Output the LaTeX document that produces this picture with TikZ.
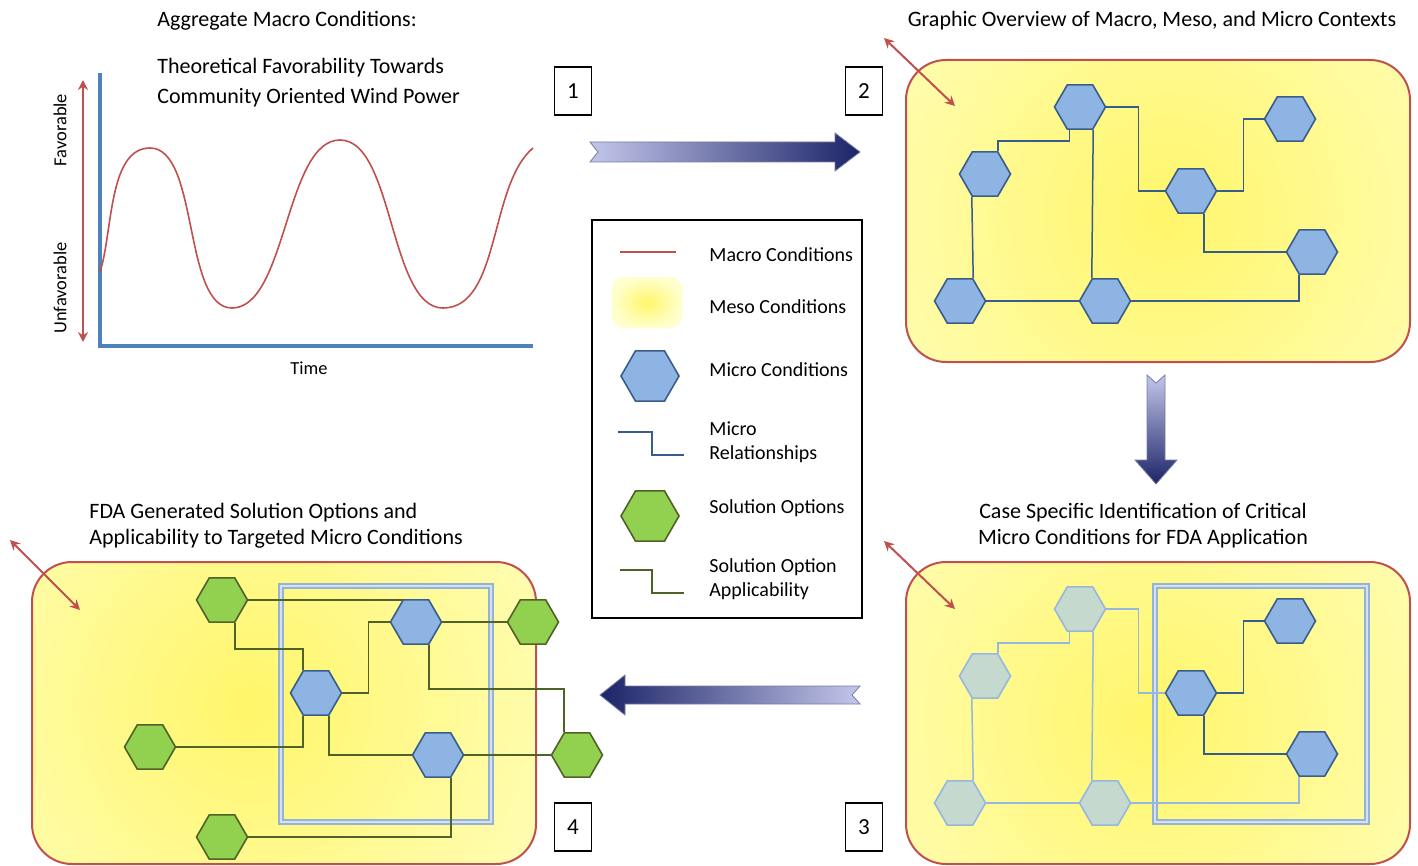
\documentclass[tikz,border=0pt]{standalone}
\usepackage{fontspec}
\setmainfont{Carlito}
\usetikzlibrary{shapes.geometric,arrows.meta}

\definecolor{macrored}{HTML}{C0504D}
\definecolor{axisblue}{HTML}{4F81BD}
\definecolor{hexblue}{HTML}{8EB4E3}
\definecolor{hexline}{HTML}{385D8A}
\definecolor{solgreen}{HTML}{92D050}
\definecolor{solline}{HTML}{4F6228}
\definecolor{fadefill}{HTML}{C6D9CE}
\definecolor{fadeline}{HTML}{95B7E0}
\definecolor{mesopale}{HTML}{FFFFCE}
\definecolor{mesocore}{HTML}{FFF66A}
\definecolor{arrlight}{HTML}{C3C6EA}
\definecolor{arrdark}{HTML}{1C2468}
\definecolor{framecol}{HTML}{95B3D7}

\tikzset{
  ttl/.style={font=\fontsize{11}{13}\selectfont,inner sep=0pt},
  leg/.style={font=\fontsize{10}{12}\selectfont,inner sep=0pt,anchor=west,align=left},
  axlbl/.style={font=\fontsize{9.2}{10}\selectfont,inner sep=0pt},
  numbox/.style={draw,line width=0.6pt,fill=white,minimum width=18.5pt,minimum height=24pt,
    inner sep=0pt,font=\fontsize{11.5}{13}\selectfont},
  micro/.style={regular polygon,regular polygon sides=6,minimum size=25.5pt,inner sep=0pt,
    fill=hexblue,draw=hexline,line width=0.8pt},
  sol/.style={micro,fill=solgreen,draw=solline},
  faded/.style={micro,fill=fadefill,draw=fadeline},
  rel/.style={draw=hexline,line width=0.75pt},
  app/.style={draw=solline,line width=0.75pt},
  fadedrel/.style={draw=fadeline,line width=0.75pt},
  macro/.style={draw=macrored,line width=0.8pt},
  redarr/.style={draw=macrored,line width=1pt,{Stealth[length=5pt,width=5pt]}-{Stealth[length=5pt,width=5pt]}},
  frame/.style={draw=framecol,line width=0.7pt,double=white!60!framecol,double distance=1.2pt}
}

\begin{document}
\begin{tikzpicture}[x=0.5pt,y=-0.5pt]
  \useasboundingbox (0,0) rectangle (1418,866);

  % panel 1
  \draw[axisblue,line width=2pt] (100,73) -- (100,346) -- (533,346);
  \draw[macro] (100,272) to[out=72,in=180,looseness=0.8] (150,148) to[out=0,in=180,looseness=0.7] (232,308)
    to[out=0,in=180,looseness=0.7] (340,140) to[out=0,in=180,looseness=0.7] (443,308)
    to[out=0,in=-140,looseness=0.8] (533,148);
  \coordinate (favtop) at (83,80);
  \coordinate (favbot) at (83,342);
  \draw[redarr] (favtop) -- (favbot);
  \node[axlbl,rotate=90] (fav) at (60,130) {Favorable};
  \node[axlbl,rotate=90] (unfav) at (60,288) {Unfavorable};
  \node[axlbl] (time) at (309,368) {Time};
  \node[ttl,anchor=west] (t1a) at (157,21) {Aggregate Macro Conditions:};
  \node[ttl,anchor=west,align=left,font=\fontsize{11}{15}\selectfont] (t1b) at (157,83)
    {Theoretical Favorability Towards\\Community Oriented Wind Power};

  % meso boxes
  \foreach \xa/\ya/\xb/\yb/\gx/\gy in {906/60/1410/362/1165/215,906/562/1410/864/1150/720,32/562/536/864/250/705}{
    \begin{scope}
      \clip[rounded corners=20pt] (\xa,\ya) rectangle (\xb,\yb);
      \fill[mesopale] (\xa,\ya) rectangle (\xb,\yb);
      \shade[inner color=mesocore,outer color=mesopale] (\gx,\gy) circle (440);
    \end{scope}
    \draw[macrored,line width=1pt,rounded corners=20pt] (\xa,\ya) rectangle (\xb,\yb);
  }

  % block arrows
  \shadedraw[left color=arrlight,right color=arrdark,draw=arrdark!60,line width=0.4pt]
    (590,142) -- (835,142) -- (835,133) -- (860,152) -- (835,171) -- (835,162) -- (590,162) -- (598,152) -- cycle;
  \shadedraw[top color=arrlight,bottom color=arrdark,draw=arrdark!60,line width=0.4pt]
    (1147,375) -- (1156,383) -- (1165,375) -- (1165,460) -- (1177,460) -- (1156,484) -- (1135,460) -- (1147,460) -- cycle;
  \shadedraw[left color=arrdark,right color=arrlight,draw=arrdark!60,line width=0.4pt]
    (860,686) -- (852,695) -- (860,704) -- (625,704) -- (625,715) -- (600,695) -- (625,675) -- (625,686) -- cycle;

  % numbers
  \node[numbox] (n1) at (573,91) {1};
  \node[numbox] (n2) at (864,91) {2};
  \node[numbox] (n3) at (864,827) {3};
  \node[numbox] (n4) at (573,827) {4};

  % panel 2
  \node[ttl] (t2) at (1152,21) {Graphic Overview of Macro, Meso, and Micro Contexts};
  \coordinate (m2a) at (884,38);
  \coordinate (m2b) at (955,106);
  \draw[redarr] (m2a) -- (m2b);
  \node[micro] (p2a) at (1080,107) {};
  \node[micro] (p2b) at (985,174) {};
  \node[micro] (p2c) at (1191,191) {};
  \node[micro] (p2d) at (1290,119) {};
  \node[micro] (p2e) at (1312,252) {};
  \node[micro] (p2f) at (960,301) {};
  \node[micro] (p2g) at (1105,301) {};
  \draw[rel] (p2b.60) -- ++(0,-10) -| (p2a.-115);
  \draw[rel] (p2a.east) -- ++(32,0) |- (p2c.west);
  \draw[rel] (p2a.-60) -- (p2g.120);
  \draw[rel] (p2b.-120) -- (p2f.60);
  \draw[rel] (p2f.east) -- (p2g.west);
  \draw[rel] (p2g.east) -| (p2e.-120);
  \draw[rel] (p2c.east) -- ++(26,0) |- (p2d.west);
  \draw[rel] (p2c.-60) |- (p2e.west);

  % panel 3
  \node[ttl,align=center] (t3) at (1143,526) {Case Specific Identification of Critical\\Micro Conditions for FDA Application};
  \coordinate (m3a) at (884,541);
  \coordinate (m3b) at (955,609);
  \draw[redarr] (m3a) -- (m3b);
  \node[faded] (p3a) at (1080,609) {};
  \node[faded] (p3b) at (985,676) {};
  \node[micro] (p3c) at (1191,693) {};
  \node[micro] (p3d) at (1290,621) {};
  \node[micro] (p3e) at (1312,754) {};
  \node[faded] (p3f) at (960,803) {};
  \node[faded] (p3g) at (1105,803) {};
  \draw[frame] (1155,586) rectangle (1367,822);
  \draw[fadedrel] (p3b.60) -- ++(0,-10) -| (p3a.-115);
  \draw[fadedrel] (p3a.east) -- ++(32,0) |- (p3c.west);
  \draw[fadedrel] (p3a.-60) -- (p3g.120);
  \draw[fadedrel] (p3b.-120) -- (p3f.60);
  \draw[fadedrel] (p3f.east) -- (p3g.west);
  \draw[fadedrel] (p3g.east) -| (p3e.-120);
  \draw[rel] (p3c.east) -- ++(26,0) |- (p3d.west);
  \draw[rel] (p3c.-60) |- (p3e.west);

  % panel 4
  \node[ttl,anchor=west,align=left] (t4) at (89,526) {FDA Generated Solution Options and\\Applicability to Targeted Micro Conditions};
  \coordinate (m4a) at (10,540);
  \coordinate (m4b) at (80,610);
  \draw[redarr] (m4a) -- (m4b);
  \node[sol] (s1) at (222,600) {};
  \node[micro] (m1) at (416,622) {};
  \node[sol] (s2) at (533,622) {};
  \node[micro] (m2) at (316,693) {};
  \node[sol] (s3) at (150,747) {};
  \node[micro] (m3) at (438,755) {};
  \node[sol] (s4) at (577,755) {};
  \node[sol] (s5) at (222,837) {};
  \draw[frame] (281,586) rectangle (491,822);
  \draw[app] (s1.east) -- (s1.east -| m1.120);
  \draw[app] (s1.-60) -- ++(0,26) -| (m2.120);
  \draw[app] (m2.east) -- ++(26,0) |- (m1.west);
  \draw[app] (m1.east) -- (s2.west);
  \draw[app] (m1.-60) -- ++(0,44) -| (s4.120);
  \draw[app] (s3.east) -| (m2.-120);
  \draw[app] (m2.-60) |- (m3.west);
  \draw[app] (m3.east) -- (s4.west);
  \draw[app] (m3.-60) |- (s5.east);

  % legend
  \draw[line width=0.6pt] (592,220) rectangle (862,618);
  \draw[macro] (620,252) -- (676,252);
  \shade[inner color=mesocore,outer color=mesopale,rounded corners=6pt] (612,277) rectangle (682,328);
  \node[micro,minimum size=29pt] (lmicro) at (650,376) {};
  \draw[rel] (618,432) -| (652,455) -- (684,455);
  \node[sol,minimum size=29pt] (lsol) at (650,516) {};
  \draw[app] (620,570) -| (652,593) -- (684,593);
  \node[leg] (lt1) at (709,255) {Macro Conditions};
  \node[leg] (lt2) at (709,307) {Meso Conditions};
  \node[leg] (lt3) at (709,370) {Micro Conditions};
  \node[leg] (lt4) at (709,442) {Micro\\Relationships};
  \node[leg] (lt5) at (709,508) {Solution Options};
  \node[leg] (lt6) at (709,579) {Solution Option\\Applicability};
\end{tikzpicture}
\end{document}
